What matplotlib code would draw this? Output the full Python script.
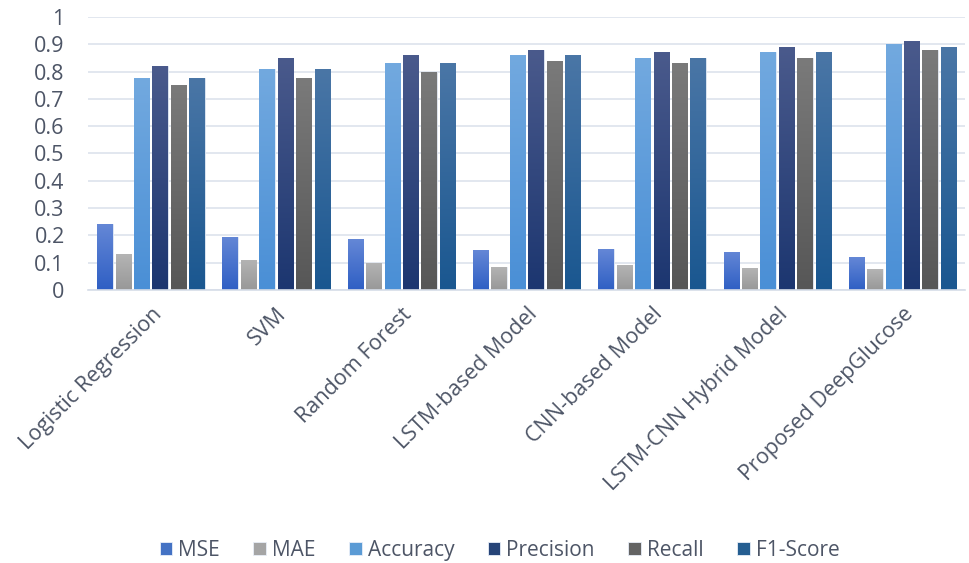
import numpy as np
import matplotlib
matplotlib.use("Agg")
import matplotlib.pyplot as plt
from matplotlib.colors import LinearSegmentedColormap

# chart values
models = ["Logistic Regression", "SVM", "Random Forest", "LSTM-based Model",
          "CNN-based Model", "LSTM-CNN Hybrid Model", "Proposed DeepGlucose"]
metrics = ["MSE", "MAE", "Accuracy", "Precision", "Recall", "F1-Score"]
mse = [0.24, 0.195, 0.185, 0.145, 0.15, 0.14, 0.12]
mae = [0.13, 0.11, 0.10, 0.085, 0.09, 0.08, 0.075]
accuracy = [0.775, 0.81, 0.83, 0.86, 0.85, 0.87, 0.90]
precision = [0.82, 0.85, 0.86, 0.88, 0.87, 0.89, 0.91]
recall = [0.75, 0.775, 0.80, 0.84, 0.83, 0.85, 0.88]
f1 = [0.775, 0.81, 0.83, 0.86, 0.85, 0.87, 0.89]
yticks = [0, 0.1, 0.2, 0.3, 0.4, 0.5, 0.6, 0.7, 0.8, 0.9, 1]

series = [mse, mae, accuracy, precision, recall, f1]
# (legend colour, gradient top, gradient bottom)
colors = [("#4472C4", "#6487d6", "#2f5fc4"),
          ("#A5A5A5", "#b4b4b4", "#989898"),
          ("#5B9BD5", "#72a9df", "#4a8fd6"),
          ("#264478", "#4a5a8c", "#1c3670"),
          ("#636363", "#7a7a7a", "#575757"),
          ("#255E91", "#4a76a6", "#1a5790")]

plt.rcParams['font.family'] = ['Open Sans', 'DejaVu Sans']
txt = "#4d5566"

fig = plt.figure(figsize=(9.7, 5.63), dpi=100)
ax = fig.add_axes([0.091, 0.485, 0.904, 0.485])

x = np.arange(len(models))
step = 0.147
width = 0.122
grad = np.linspace(1, 0, 100).reshape(-1, 1)

for i, (vals, (c, top, bot)) in enumerate(zip(series, colors)):
    bars = ax.bar(x + (i - 2.5) * step, vals, width, color=c, label=metrics[i],
                  edgecolor="#e8eef8", linewidth=0.6, zorder=2)
    cmap = LinearSegmentedColormap.from_list("g%d" % i, [bot, top])
    for b in bars:
        x0, y0 = b.get_x(), b.get_y()
        im = ax.imshow(grad, extent=(x0, x0 + b.get_width(), y0, y0 + b.get_height()),
                       cmap=cmap, aspect="auto", origin="upper", zorder=2.5,
                       vmin=0, vmax=1)
        im.set_clip_path(b)

ax.set_xlim(-0.5, len(models) - 0.5)
ax.set_ylim(0, 1)
ax.set_yticks(yticks)
ax.set_yticklabels(["0", "0.1", "0.2", "0.3", "0.4", "0.5", "0.6", "0.7", "0.8", "0.9", "1"])
ax.grid(axis="y", color="#dde3ec", linewidth=1.2, zorder=0)
ax.set_axisbelow(True)
for s in ["top", "right", "left"]:
    ax.spines[s].set_visible(False)
ax.spines["bottom"].set_color("#d6dde8")
ax.spines["bottom"].set_linewidth(1.2)
ax.tick_params(axis="both", length=0, labelcolor=txt)
ax.tick_params(axis="y", pad=17, labelsize=15.5)
ax.set_xticks(x)
ax.set_xticklabels(models, rotation=45, ha="right", rotation_mode="anchor")
ax.tick_params(axis="x", pad=10, labelsize=15.5)

handles, labels = ax.get_legend_handles_labels()
fig.legend(handles, labels, loc="center", bbox_to_anchor=(0.515, 0.023), ncol=6,
           frameon=False, fontsize=15, labelcolor=txt, handlelength=0.6,
           handleheight=0.6, handletextpad=0.3, columnspacing=1.6)

plt.savefig("out.png", dpi=100)
